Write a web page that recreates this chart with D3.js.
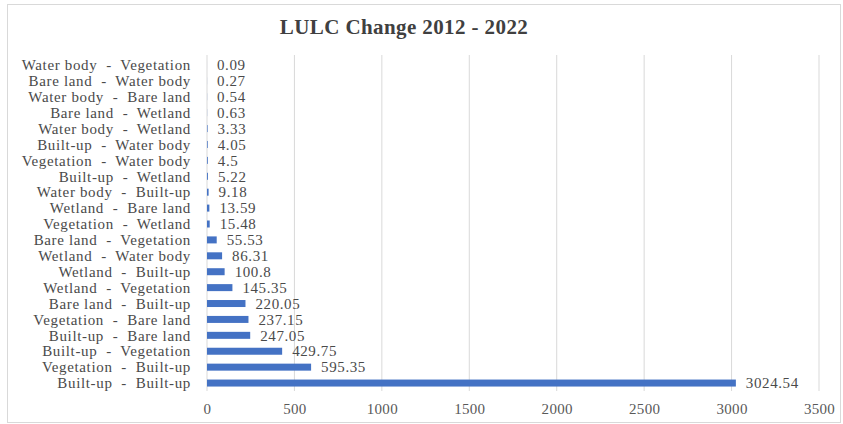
<!DOCTYPE html>
<html>
<head>
<meta charset="utf-8">
<script src="https://cdn.jsdelivr.net/npm/d3@7"></script>
<style>
  body { margin: 0; background: #fff; }
  text { font-family: "Liberation Serif", "Times New Roman", serif; }
</style>
</head>
<body>
<script>
var width = 843,
    height = 424;

// categories, top to bottom as in the chart
var categories = [
  "Water body  -  Vegetation",
  "Bare land  -  Water body",
  "Water body  -  Bare land",
  "Bare land  -  Wetland",
  "Water body  -  Wetland",
  "Built-up  -  Water body",
  "Vegetation  -  Water body",
  "Built-up  -  Wetland",
  "Water body  -  Built-up",
  "Wetland  -  Bare land",
  "Vegetation  -  Wetland",
  "Bare land  -  Vegetation",
  "Wetland  -  Water body",
  "Wetland  -  Built-up",
  "Wetland  -  Vegetation",
  "Bare land  -  Built-up",
  "Vegetation  -  Bare land",
  "Built-up  -  Bare land",
  "Built-up  -  Vegetation",
  "Vegetation  -  Built-up",
  "Built-up  -  Built-up"
];
var values = [0.09, 0.27, 0.54, 0.63, 3.33, 4.05, 4.5, 5.22, 9.18, 13.59, 15.48,
              55.53, 86.31, 100.8, 145.35, 220.05, 237.15, 247.05, 429.75, 595.35, 3024.54];
var valueLabels = ["0.09", "0.27", "0.54", "0.63", "3.33", "4.05", "4.5", "5.22", "9.18", "13.59", "15.48",
                   "55.53", "86.31", "100.8", "145.35", "220.05", "237.15", "247.05", "429.75", "595.35", "3024.54"];
var ticks = [0, 500, 1000, 1500, 2000, 2500, 3000, 3500];
var title = "LULC Change 2012 - 2022";

var data = categories.map(function(c, i) { return {cat: c, value: values[i], label: valueLabels[i]}; });

var svg = d3.select("body").append("svg")
    .attr("width", width)
    .attr("height", height);

// chart border
svg.append("rect")
    .attr("x", 7.5).attr("y", 4.5)
    .attr("width", 833).attr("height", 418)
    .style("fill", "#fff")
    .style("stroke", "#d9d9d9");

var x = d3.scaleLinear().domain([0, 3500]).range([207, 819]);
var y = d3.scaleBand().domain(categories).range([57, 391]).paddingInner(0.56).paddingOuter(0.28);

// gridlines
svg.selectAll(".grid")
    .data(ticks.slice(1))
    .enter().append("line")
    .attr("class", "grid")
    .attr("x1", function(d) { return x(d); })
    .attr("x2", function(d) { return x(d); })
    .attr("y1", 55)
    .attr("y2", 391)
    .style("stroke", "#d9d9d9")
    .style("stroke-width", 1);

// category axis line
svg.append("line")
    .attr("x1", x(0)).attr("x2", x(0))
    .attr("y1", 55).attr("y2", 391)
    .style("stroke", "#d9d9d9");

svg.selectAll(".bar")
    .data(data)
    .enter().append("rect")
    .attr("class", "bar")
    .attr("x", x(0))
    .attr("y", function(d) { return y(d.cat); })
    .attr("width", function(d) { return x(d.value) - x(0); })
    .attr("height", y.bandwidth())
    .style("fill", "#4472c4");

svg.selectAll(".val")
    .data(data)
    .enter().append("text")
    .attr("class", "val")
    .attr("x", function(d) { return x(d.value) + 10; })
    .attr("y", function(d) { return y(d.cat) + y.bandwidth() / 2; })
    .attr("dy", "0.35em")
    .style("font-size", "15px")
    .style("letter-spacing", "0.6px")
    .style("fill", "#4a4a4a")
    .text(function(d) { return d.label; });

svg.selectAll(".cat")
    .data(categories)
    .enter().append("text")
    .attr("class", "cat")
    .attr("x", 191)
    .attr("y", function(d) { return y(d) + y.bandwidth() / 2; })
    .attr("dy", "0.35em")
    .attr("text-anchor", "end")
    .style("font-size", "15px")
    .style("letter-spacing", "0.65px")
    .style("fill", "#4a4a4a")
    .style("white-space", "pre")
    .text(function(d) { return d; });

// value axis labels
var xAxis = svg.append("g")
    .attr("transform", "translate(0,396)")
    .call(d3.axisBottom(x).tickValues(ticks).tickFormat(d3.format("d")).tickSize(0).tickPadding(7));
xAxis.select(".domain").remove();
xAxis.selectAll("text")
    .style("font-family", "'Liberation Serif', serif")
    .style("font-size", "15px")
    .style("letter-spacing", "0.3px")
    .style("fill", "#595959");

svg.append("text")
    .attr("x", 404)
    .attr("y", 34)
    .attr("text-anchor", "middle")
    .style("font-size", "21px")
    .style("letter-spacing", "0.4px")
    .style("font-weight", "bold")
    .style("fill", "#404040")
    .text(title);
</script>
</body>
</html>
